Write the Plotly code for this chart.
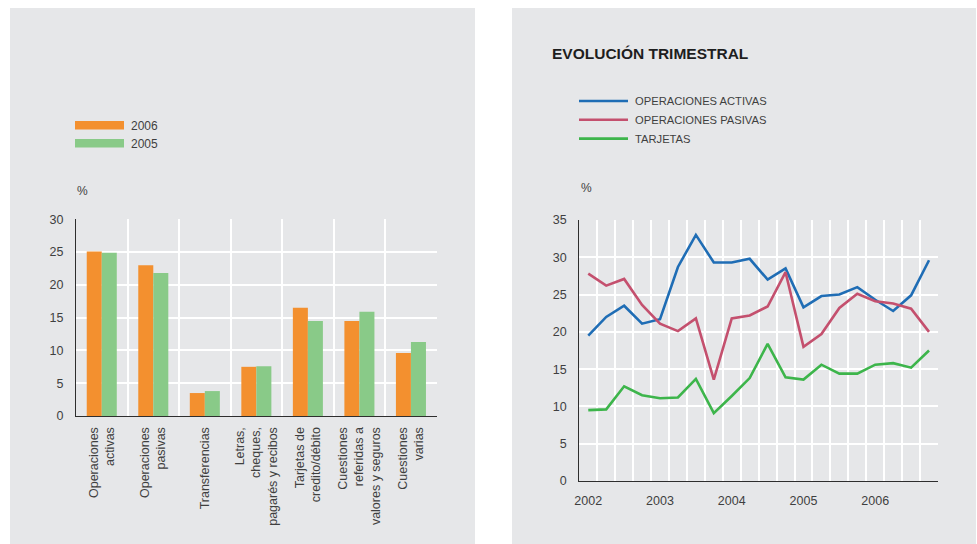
import plotly.graph_objects as go

W, H = 977, 544

# ---- Left chart: distribución por materias (%) ----
categorias = [
    "Operaciones<br>activas",
    "Operaciones<br>pasivas",
    "Transferencias",
    "Letras,<br>cheques,<br>pagarés y recibos",
    "Tarjetas de<br>credito/débito",
    "Cuestiones<br>referidas a<br>valores y seguros",
    "Cuestiones<br>varias",
]
valores_2006 = [25.1, 23.0, 3.5, 7.5, 16.5, 14.5, 9.6]
valores_2005 = [24.9, 21.8, 3.8, 7.6, 14.5, 15.9, 11.3]
series_barras = ["2006", "2005"]

# ---- Right chart: evolución trimestral 2002-2006 (%) ----
anios = ["2002", "2003", "2004", "2005", "2006"]
trimestres = list(range(4 * len(anios)))
activas = [19.5, 22.0, 23.5, 21.1, 21.7, 28.7, 33.0, 29.3, 29.3, 29.8,
           27.0, 28.5, 23.3, 24.8, 25.0, 26.0, 24.3, 22.8, 24.9, 29.6]
pasivas = [27.8, 26.2, 27.1, 23.6, 21.1, 20.1, 21.8, 13.6, 21.8, 22.2,
           23.4, 28.0, 18.0, 19.7, 23.2, 25.1, 24.1, 23.8, 23.1, 20.0]
tarjetas = [9.5, 9.6, 12.7, 11.5, 11.1, 11.2, 13.7, 9.1, 11.4, 13.8,
            18.4, 13.9, 13.6, 15.6, 14.4, 14.4, 15.6, 15.8, 15.2, 17.5]
nombres_lineas = ["OPERACIONES ACTIVAS", "OPERACIONES PASIVAS", "TARJETAS"]

# ---- Styling ----
FONT = "Liberation Sans, Arial, Helvetica, sans-serif"
PANEL = "#e6e7e9"
TEXT = "#3f3f3f"
AXIS = "#2e2e2e"
ORANGE = "#f3902f"
GREEN_BAR = "#89ca88"
BLUE = "#1f6db5"
RED = "#c4506e"
GREEN_LINE = "#3db54b"
bar_colors = [ORANGE, GREEN_BAR]
line_colors = [BLUE, RED, GREEN_LINE]


def px(x):
    return x / W


def py(y):
    return 1 - y / H


fig = go.Figure()

for name, vals, col in zip(series_barras, [valores_2006, valores_2005], bar_colors):
    fig.add_trace(go.Bar(
        x=list(range(len(categorias))), y=vals, name=name,
        marker=dict(color=col, line=dict(width=0)),
        xaxis="x", yaxis="y", showlegend=False, hoverinfo="y",
    ))

for name, vals, col in zip(nombres_lineas, [activas, pasivas, tarjetas], line_colors):
    fig.add_trace(go.Scatter(
        x=trimestres, y=vals, name=name, mode="lines",
        line=dict(color=col, width=2.6),
        xaxis="x2", yaxis="y2", showlegend=False,
    ))

tick_font = dict(family=FONT, size=12.5, color=TEXT)
grid = dict(showgrid=True, gridcolor="white", gridwidth=1.8)
common_axis = dict(showline=True, linecolor=AXIS, linewidth=1.3, zeroline=False,
                   ticks="outside", tickcolor="rgba(0,0,0,0)", tickfont=tick_font,
                   fixedrange=True, automargin=False)

fig.update_layout(
    width=W, height=H,
    margin=dict(l=0, r=0, t=0, b=0, autoexpand=False),
    paper_bgcolor="white",
    plot_bgcolor="rgba(0,0,0,0)",
    barmode="group", bargap=0.417, bargroupgap=0,
    showlegend=False,
    font=dict(family=FONT, color=TEXT),
    xaxis=dict(
        domain=[px(76), px(436.7)], range=[-0.5, len(categorias) - 0.5],
        anchor="y", tickmode="array", tickvals=list(range(len(categorias))),
        ticktext=categorias, tickangle=-90, ticklen=5, showgrid=False,
        minor=dict(tickmode="linear", tick0=-0.5, dtick=1, ticks="", **grid),
        **common_axis,
    ),
    yaxis=dict(
        domain=[py(416), py(219.3)], range=[0, 30], anchor="x",
        tickmode="linear", tick0=0, dtick=5, ticklen=9, **grid, **common_axis,
    ),
    xaxis2=dict(
        domain=[px(579.3), px(938)], range=[-0.5, len(trimestres) - 0.5],
        anchor="y2", tickmode="array",
        tickvals=[4 * i for i in range(len(anios))], ticktext=anios,
        tickangle=0, ticklen=8, showgrid=False,
        minor=dict(tickmode="linear", tick0=-0.5, dtick=1, ticks="", **grid),
        **common_axis,
    ),
    yaxis2=dict(
        domain=[py(481), py(220)], range=[0, 35], anchor="x2",
        tickmode="linear", tick0=0, dtick=5, ticklen=9, **grid, **common_axis,
    ),
)

shapes = [
    # gray panels
    dict(type="rect", xref="paper", yref="paper", x0=px(10), x1=px(475),
         y0=0, y1=py(8), fillcolor=PANEL, line=dict(width=0), layer="below"),
    dict(type="rect", xref="paper", yref="paper", x0=px(512), x1=px(976),
         y0=0, y1=py(8), fillcolor=PANEL, line=dict(width=0), layer="below"),
]
annotations = []

# legend of the bar chart
for i, (name, col) in enumerate(zip(series_barras, bar_colors)):
    yc = 125.3 + 18 * i
    shapes.append(dict(type="rect", xref="paper", yref="paper",
                       x0=px(75), x1=px(124), y0=py(yc + 4.2), y1=py(yc - 4.2),
                       fillcolor=col, line=dict(width=0)))
    annotations.append(dict(xref="paper", yref="paper", x=px(129), y=py(yc + 0.5),
                            xanchor="left", yanchor="middle", showarrow=False,
                            text=name, font=dict(family=FONT, size=12, color=TEXT)))

# legend of the line chart
for i, (name, col) in enumerate(zip(nombres_lineas, line_colors)):
    yc = 101 + 18.8 * i
    shapes.append(dict(type="line", xref="paper", yref="paper",
                       x0=px(579), x1=px(628), y0=py(yc), y1=py(yc),
                       line=dict(color=col, width=2.6)))
    annotations.append(dict(xref="paper", yref="paper", x=px(632.5), y=py(yc + 0.5),
                            xanchor="left", yanchor="middle", showarrow=False,
                            text=name, font=dict(family=FONT, size=11.2, color=TEXT)))

annotations += [
    dict(xref="paper", yref="paper", x=px(549.5), y=py(54), xanchor="left",
         yanchor="middle", showarrow=False, text="<b>EVOLUCIÓN TRIMESTRAL</b>",
         font=dict(family=FONT, size=15.5, color="#1e1e1e")),
    dict(xref="paper", yref="paper", x=px(74.5), y=py(191), xanchor="left",
         yanchor="middle", showarrow=False, text="%",
         font=dict(family=FONT, size=12, color=TEXT)),
    dict(xref="paper", yref="paper", x=px(578.5), y=py(187.5), xanchor="left",
         yanchor="middle", showarrow=False, text="%",
         font=dict(family=FONT, size=12, color=TEXT)),
]

fig.update_layout(shapes=shapes, annotations=annotations)

fig.write_html("out.html")
